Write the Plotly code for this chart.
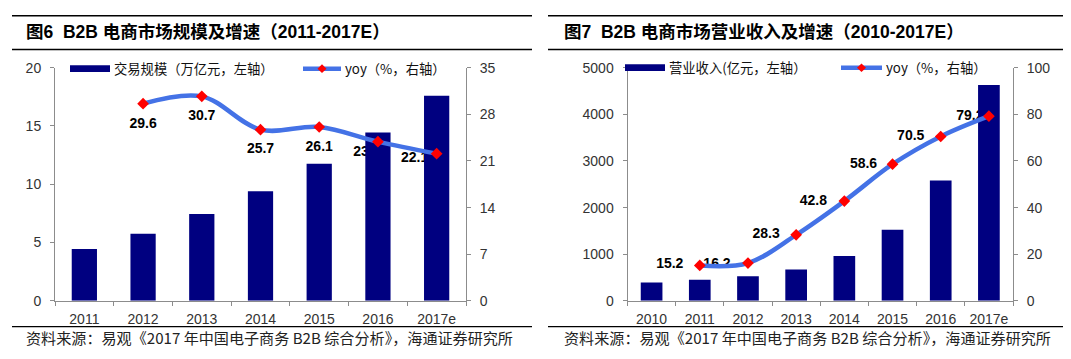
import plotly.graph_objects as go

# ---------------- data ----------------
left_years = ["2011", "2012", "2013", "2014", "2015", "2016", "2017e"]
left_scale = [4.45, 5.75, 7.45, 9.4, 11.75, 14.45, 17.6]          # 万亿元
left_yoy_years = ["2012", "2013", "2014", "2015", "2016", "2017e"]
left_yoy = [29.6, 30.7, 25.7, 26.1, 23.9, 22.1]                    # %

right_years = ["2010", "2011", "2012", "2013", "2014", "2015", "2016", "2017e"]
right_revenue = [395, 452, 525, 672, 960, 1525, 2580, 4630]       # 亿元
right_yoy_years = ["2011", "2012", "2013", "2014", "2015", "2016", "2017e"]
right_yoy = [15.2, 16.2, 28.3, 42.8, 58.6, 70.5, 79.2]            # %

left_title = "图6\u00a0\u00a0B2B 电商市场规模及增速（2011-2017E）"
right_title = "图7\u00a0\u00a0B2B 电商市场营业收入及增速（2010-2017E）"
left_bar_name = "交易规模（万亿元，左轴）"
right_bar_name = "营业收入(亿元，左轴）"
yoy_name = "yoy（%，右轴）"
source_text = "资料来源：易观《2017 年中国电子商务 B2B 综合分析》，海通证券研究所"

# ---------------- style ----------------
W, H = 1071, 359
NAVY = "#000080"
BLUE = "#4472E6"
RED = "#FF0000"
AX = "#8C8C8C"
TICKF = dict(family="Liberation Sans, Arial", size=14, color="#333333")
CJK = "Noto Sans CJK SC"

Y_TOP, Y_BOT = 62.5, 306.5
L_X0, L_X1 = 55.0, 466.0
R_X0, R_X1 = 627.5, 1013.0

# label offsets in pixels (dx right, dy down) relative to markers
left_lbl_dx = [0, 0, 0, 0, -11, -22]
left_lbl_dy = [22, 21, 21, 21, 11, 5]
right_lbl_dx = [-30, -31, -30, -31, -29, -30, -19]
right_lbl_dy = [-1, 1.5, 0, 0, 0, 0, 0]


def fx(px):
    return px / W


def fy(py):
    return 1 - py / H


fig = go.Figure()


def panel(xname, ybase, ybar, yline, cats, bars, ycats, yoy, x0, x1, ymax_r,
          dxs, dys, barw):
    n = len(cats)
    idx = {c: i for i, c in enumerate(cats)}
    pcat = (x1 - x0) / n
    pu = (Y_BOT - Y_TOP) / ymax_r
    xi = [idx[c] for c in ycats]
    # labels (drawn beneath bars)
    fig.add_trace(go.Scatter(
        x=[x + dx / pcat for x, dx in zip(xi, dxs)],
        y=[v - dy / pu for v, dy in zip(yoy, dys)],
        text=[f"{v:.1f}" for v in yoy], mode="text", textposition="middle center",
        textfont=dict(family="Liberation Sans, Arial", size=14, color="#000000", weight="bold"),
        xaxis=xname, yaxis=ybase, showlegend=False, hoverinfo="skip", cliponaxis=False))
    fig.add_trace(go.Bar(
        x=list(range(n)), y=bars, width=barw, marker=dict(color=NAVY, line=dict(width=0)),
        xaxis=xname, yaxis=ybar, showlegend=False))
    fig.add_trace(go.Scatter(
        x=xi, y=yoy, mode="lines+markers",
        line=dict(color=BLUE, width=4.5, shape="spline", smoothing=1.0),
        marker=dict(symbol="diamond", size=9, color=RED),
        xaxis=xname, yaxis=yline, showlegend=False, cliponaxis=False))


panel("x", "y", "y2", "y3", left_years, left_scale, left_yoy_years, left_yoy,
      L_X0, L_X1, 35, left_lbl_dx, left_lbl_dy, 0.43)
panel("x2", "y4", "y5", "y6", right_years, right_revenue, right_yoy_years, right_yoy,
      R_X0, R_X1, 100, right_lbl_dx, right_lbl_dy, 0.45)

ydom = [fy(Y_BOT), fy(Y_TOP)]


def xax(x0, x1, anchor, cats):
    n = len(cats)
    return dict(domain=[fx(x0), fx(x1)], anchor=anchor, range=[-0.5, n - 0.5],
                tickvals=list(range(n)), ticktext=cats, ticks="", showline=True,
                linecolor=AX, linewidth=1, showgrid=False, zeroline=False,
                tickfont=TICKF, ticklabelstandoff=5,
                minor=dict(tickvals=[i - 0.5 for i in range(n + 1)], ticks="outside",
                           ticklen=4, tickcolor=AX, showgrid=False))


def yax(side, rng, dtick, anchor, overlay):
    return dict(anchor=anchor, side=side, range=rng, dtick=dtick, tick0=0,
                showline=True, linecolor=AX, linewidth=1, ticks="outside", ticklen=4,
                tickcolor=AX, showgrid=False, zeroline=False, tickfont=TICKF,
                ticklabelstandoff=6, fixedrange=True, overlaying=overlay)


fig.update_layout(
    width=W, height=H, margin=dict(l=0, r=0, t=0, b=0),
    paper_bgcolor="white", plot_bgcolor="white", showlegend=False,
    xaxis=xax(L_X0, L_X1, "y", left_years),
    yaxis=dict(domain=ydom, anchor="x", range=[0, 35], visible=False),
    yaxis2=yax("left", [0, 20], 5, "x", "y"),
    yaxis3=yax("right", [0, 35], 7, "x", "y"),
    xaxis2=xax(R_X0, R_X1, "y4", right_years),
    yaxis4=dict(domain=ydom, anchor="x2", range=[0, 100], visible=False),
    yaxis5=yax("left", [0, 5000], 1000, "x2", "y4"),
    yaxis6=yax("right", [0, 100], 20, "x2", "y4"),
)

shapes = []
anns = []


def hline(x0, x1, y, w=1.3, color="#000000"):
    shapes.append(dict(type="line", xref="paper", yref="paper", x0=fx(x0), x1=fx(x1),
                       y0=fy(y), y1=fy(y), line=dict(color=color, width=w)))


def text(x, y, s, size, color="#000000", family=CJK, weight="normal", xanchor="left"):
    anns.append(dict(x=fx(x), y=fy(y), xref="paper", yref="paper", text=s, showarrow=False,
                     xanchor=xanchor, yanchor="middle",
                     font=dict(family=family, size=size, color=color, weight=weight)))


def legend(bx0, bx1, by, btxt, lx0, lx1, ly, ltxt):
    shapes.append(dict(type="rect", xref="paper", yref="paper", x0=fx(bx0), x1=fx(bx1),
                       y0=fy(by + 3.5), y1=fy(by - 3.5), fillcolor=NAVY, line=dict(width=0)))
    text(bx1 + 2, by, btxt, 13.3, "#111111")
    shapes.append(dict(type="line", xref="paper", yref="paper", x0=fx(lx0), x1=fx(lx1),
                       y0=fy(ly), y1=fy(ly), line=dict(color=BLUE, width=4.5)))
    cx, r = (lx0 + lx1) / 2, 4.5
    shapes.append(dict(type="path", xref="paper", yref="paper",
                       path=f"M {fx(cx)},{fy(ly - r)} L {fx(cx + r)},{fy(ly)} "
                            f"L {fx(cx)},{fy(ly + r)} L {fx(cx - r)},{fy(ly)} Z",
                       fillcolor=RED, line=dict(width=0)))
    text(lx1 + 2, ly, ltxt, 13.3, "#111111")


# titles, rules, sources
for (a, b, tx, title) in [(12, 532, 24, left_title), (548, 1063, 562, right_title)]:
    hline(a, b, 8, 1.5)
    hline(a, b, 43.5, 1.5)
    hline(a, b, 333.5, 1.3)
    text(tx, 25.5, title, 17.5, "#000000", family="Liberation Sans, " + CJK, weight="bold")
    text(tx, 344, source_text, 15.1, "#222222")

legend(70, 110, 63.5, left_bar_name, 303, 341, 63.5, yoy_name)
legend(625, 665, 62.5, right_bar_name, 841, 882, 62.5, yoy_name)

fig.update_layout(shapes=shapes, annotations=anns)
fig.write_html("out.html", config={"displayModeBar": False, "staticPlot": True},
               post_script="document.body.style.margin='0';document.body.style.overflow='hidden';")
